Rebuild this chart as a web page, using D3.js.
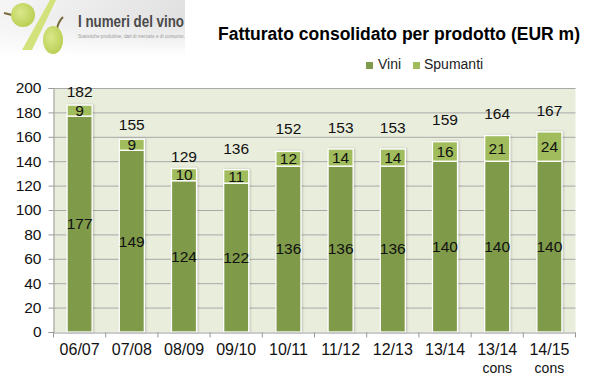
<!DOCTYPE html>
<html>
<head>
<meta charset="utf-8">
<script src="https://cdn.jsdelivr.net/npm/d3@7"></script>
<style>
  html, body { margin: 0; padding: 0; background: #fff; }
  svg { display: block; font-family: "Liberation Sans", Arial, sans-serif; }
</style>
</head>
<body>
<div id="chart"></div>
<script>
// data
var categories = ["06/07", "07/08", "08/09", "09/10", "10/11", "11/12", "12/13", "13/14", "13/14", "14/15"];
var subLabels = ["", "", "", "", "", "", "", "", "cons", "cons"];
var vini = [177, 149, 124, 122, 136, 136, 136, 140, 140, 140];
var spumanti = [9, 9, 10, 11, 12, 14, 14, 16, 21, 24];
var totals = [182, 155, 129, 136, 152, 153, 153, 159, 164, 167];
var yTicks = [0, 20, 40, 60, 80, 100, 120, 140, 160, 180, 200];

var svg = d3.select("#chart").append("svg")
    .attr("width", 592)
    .attr("height", 383);

var defs = svg.append("defs");

var logoBg = defs.append("linearGradient").attr("id", "logoBg")
    .attr("x1", 0).attr("y1", 0).attr("x2", 1).attr("y2", 0.35);
logoBg.append("stop").attr("offset", "0%").attr("stop-color", "#f6f6f6");
logoBg.append("stop").attr("offset", "100%").attr("stop-color", "#e0e0e0");

var logoFade = defs.append("linearGradient").attr("id", "logoFade")
    .attr("x1", 0).attr("y1", 0).attr("x2", 0).attr("y2", 1);
logoFade.append("stop").attr("offset", "0%").attr("stop-color", "#fff").attr("stop-opacity", 0);
logoFade.append("stop").attr("offset", "100%").attr("stop-color", "#fff").attr("stop-opacity", 1);

var grape = defs.append("radialGradient").attr("id", "grape")
    .attr("cx", 0.4).attr("cy", 0.4).attr("r", 0.7);
grape.append("stop").attr("offset", "0%").attr("stop-color", "#dbe88a");
grape.append("stop").attr("offset", "100%").attr("stop-color", "#b6cc4e");

var barShadow = defs.append("filter").attr("id", "barShadow")
    .attr("x", "-20%").attr("y", "-5%").attr("width", "140%").attr("height", "110%");
barShadow.append("feDropShadow")
    .attr("dx", 1).attr("dy", 0).attr("stdDeviation", 1.2)
    .attr("flood-color", "#000").attr("flood-opacity", 0.2);

// logo
var logo = svg.append("g");
logo.append("rect").attr("width", 185).attr("height", 56).attr("fill", "url(#logoBg)");
logo.append("rect").attr("y", 18).attr("width", 185).attr("height", 38).attr("fill", "url(#logoFade)");
logo.append("path").attr("d", "M4,13 L12,15").attr("stroke", "#7a6a3a").attr("stroke-width", 2).attr("fill", "none");
logo.append("ellipse").attr("cx", 23).attr("cy", 15).attr("rx", 12).attr("ry", 12).attr("fill", "url(#grape)");
logo.append("path").attr("d", "M50,0 L56,0 L32,50 L22,50 Z").attr("fill", "#d3e27a");
logo.append("path").attr("d", "M63,17 Q58,22 57,29").attr("stroke", "#7a6a3a").attr("stroke-width", 2).attr("fill", "none");
logo.append("ellipse").attr("cx", 53).attr("cy", 40).attr("rx", 10).attr("ry", 14).attr("fill", "url(#grape)");
logo.append("text").attr("x", 78).attr("y", 27)
    .attr("font-size", 16.5).attr("font-weight", "bold").attr("fill", "#4a4a4a")
    .attr("textLength", 106).attr("lengthAdjust", "spacingAndGlyphs")
    .text("I numeri del vino");
logo.append("text").attr("x", 78).attr("y", 38)
    .attr("font-size", 4.5).attr("fill", "#999")
    .attr("textLength", 107).attr("lengthAdjust", "spacingAndGlyphs")
    .text("Statistiche produttive, dati di mercato e di consumo,");

// title
svg.append("text").attr("x", 218).attr("y", 40)
    .attr("font-size", 17.5).attr("font-weight", "bold").attr("fill", "#000")
    .attr("textLength", 362).attr("lengthAdjust", "spacingAndGlyphs")
    .text("Fatturato consolidato per prodotto (EUR m)");

// legend
var colorVini = "#7f9a48";
var colorSpumanti = "#a0bc5c";
var legendItems = [
  {label: "Vini", sx: 366, tx: 378, color: colorVini},
  {label: "Spumanti", sx: 413, tx: 424, color: colorSpumanti}
];
legendItems.forEach(function(d) {
  svg.append("rect").attr("x", d.sx).attr("y", 62).attr("width", 7).attr("height", 7).attr("fill", d.color);
  svg.append("text").attr("x", d.tx).attr("y", 69).attr("font-size", 14).attr("fill", "#222").text(d.label);
});

// scales
var x = d3.scaleBand().domain(d3.range(categories.length)).range([53.5, 575.5]).paddingInner(0.52).paddingOuter(0.26);
var y = d3.scaleLinear().domain([0, 200]).range([332, 88]);

// plot background
svg.append("rect")
    .attr("x", x.range()[0]).attr("y", y(200))
    .attr("width", x.range()[1] - x.range()[0]).attr("height", y(0) - y(200))
    .attr("fill", "#e9eddc");

// Add Y axis with gridlines
var yAxis = svg.append("g")
    .attr("transform", "translate(53.5,0)")
    .call(d3.axisLeft(y).tickValues(yTicks).tickSize(5).tickPadding(7));
yAxis.selectAll("text").attr("font-size", 15.5).attr("font-family", "Liberation Sans").attr("fill", "#111");
yAxis.selectAll("line").attr("stroke", "#999");
yAxis.select(".domain").attr("stroke", "#999");

svg.append("g").selectAll("line")
  .data(yTicks.filter(function(d) { return d > 0; }))
  .enter().append("line")
    .attr("x1", 53.5).attr("x2", 575.5)
    .attr("y1", function(d) { return y(d) + 0.5; })
    .attr("y2", function(d) { return y(d) + 0.5; })
    .attr("stroke", "#a8a8a8");

// bars
var bars = svg.append("g").selectAll("g")
  .data(categories)
  .enter().append("g");

var barRects = bars.append("g").attr("filter", "url(#barShadow)");

barRects.append("rect")
    .attr("x", function(d, i) { return x(i); })
    .attr("y", function(d, i) { return y(vini[i]); })
    .attr("width", x.bandwidth())
    .attr("height", function(d, i) { return y(0) - y(vini[i]); })
    .attr("fill", colorVini)
    .attr("stroke", "#fff")
    .attr("stroke-width", 1.3);

barRects.append("rect")
    .attr("x", function(d, i) { return x(i); })
    .attr("y", function(d, i) { return y(vini[i] + spumanti[i]); })
    .attr("width", x.bandwidth())
    .attr("height", function(d, i) { return y(vini[i]) - y(vini[i] + spumanti[i]); })
    .attr("fill", colorSpumanti)
    .attr("stroke", "#fff")
    .attr("stroke-width", 1.3);

// value labels
function barLabel(cls, text, yPos) {
  bars.append("text")
      .attr("class", cls)
      .attr("x", function(d, i) { return x(i) + x.bandwidth() / 2; })
      .attr("y", yPos)
      .attr("text-anchor", "middle")
      .attr("dy", "0.35em")
      .attr("font-size", 15.5)
      .attr("fill", "#111")
      .text(text);
}
barLabel("vini", function(d, i) { return vini[i]; }, function(d, i) { return y(vini[i] / 2); });
barLabel("spumanti", function(d, i) { return spumanti[i]; }, function(d, i) { return y(vini[i] + spumanti[i] / 2); });
// totals sit a fixed distance above their own value, not above the bar
barLabel("total", function(d, i) { return totals[i]; }, function(d, i) { return y(totals[i]) - 18; });

// Add X axis
var xAxis = svg.append("g")
    .attr("transform", "translate(0,332.5)")
    .call(d3.axisBottom(x).tickSize(0).tickPadding(11).tickFormat(function(d) { return categories[d]; }));
xAxis.selectAll("text").attr("font-size", 16).attr("font-family", "Liberation Sans").attr("fill", "#111");
xAxis.select(".domain").attr("stroke", "#999");

// ticks fall on the band edges
svg.append("g").selectAll("line")
  .data(d3.range(categories.length + 1))
  .enter().append("line")
    .attr("x1", function(d) { return 53.5 + d * x.step(); })
    .attr("x2", function(d) { return 53.5 + d * x.step(); })
    .attr("y1", 332.5).attr("y2", 337.5)
    .attr("stroke", "#999");

svg.append("g").selectAll("text")
  .data(subLabels)
  .enter().append("text")
    .attr("x", function(d, i) { return x(i) + x.bandwidth() / 2; })
    .attr("y", 373)
    .attr("text-anchor", "middle")
    .attr("font-size", 14)
    .attr("fill", "#111")
    .text(function(d) { return d; });
</script>
</body>
</html>
